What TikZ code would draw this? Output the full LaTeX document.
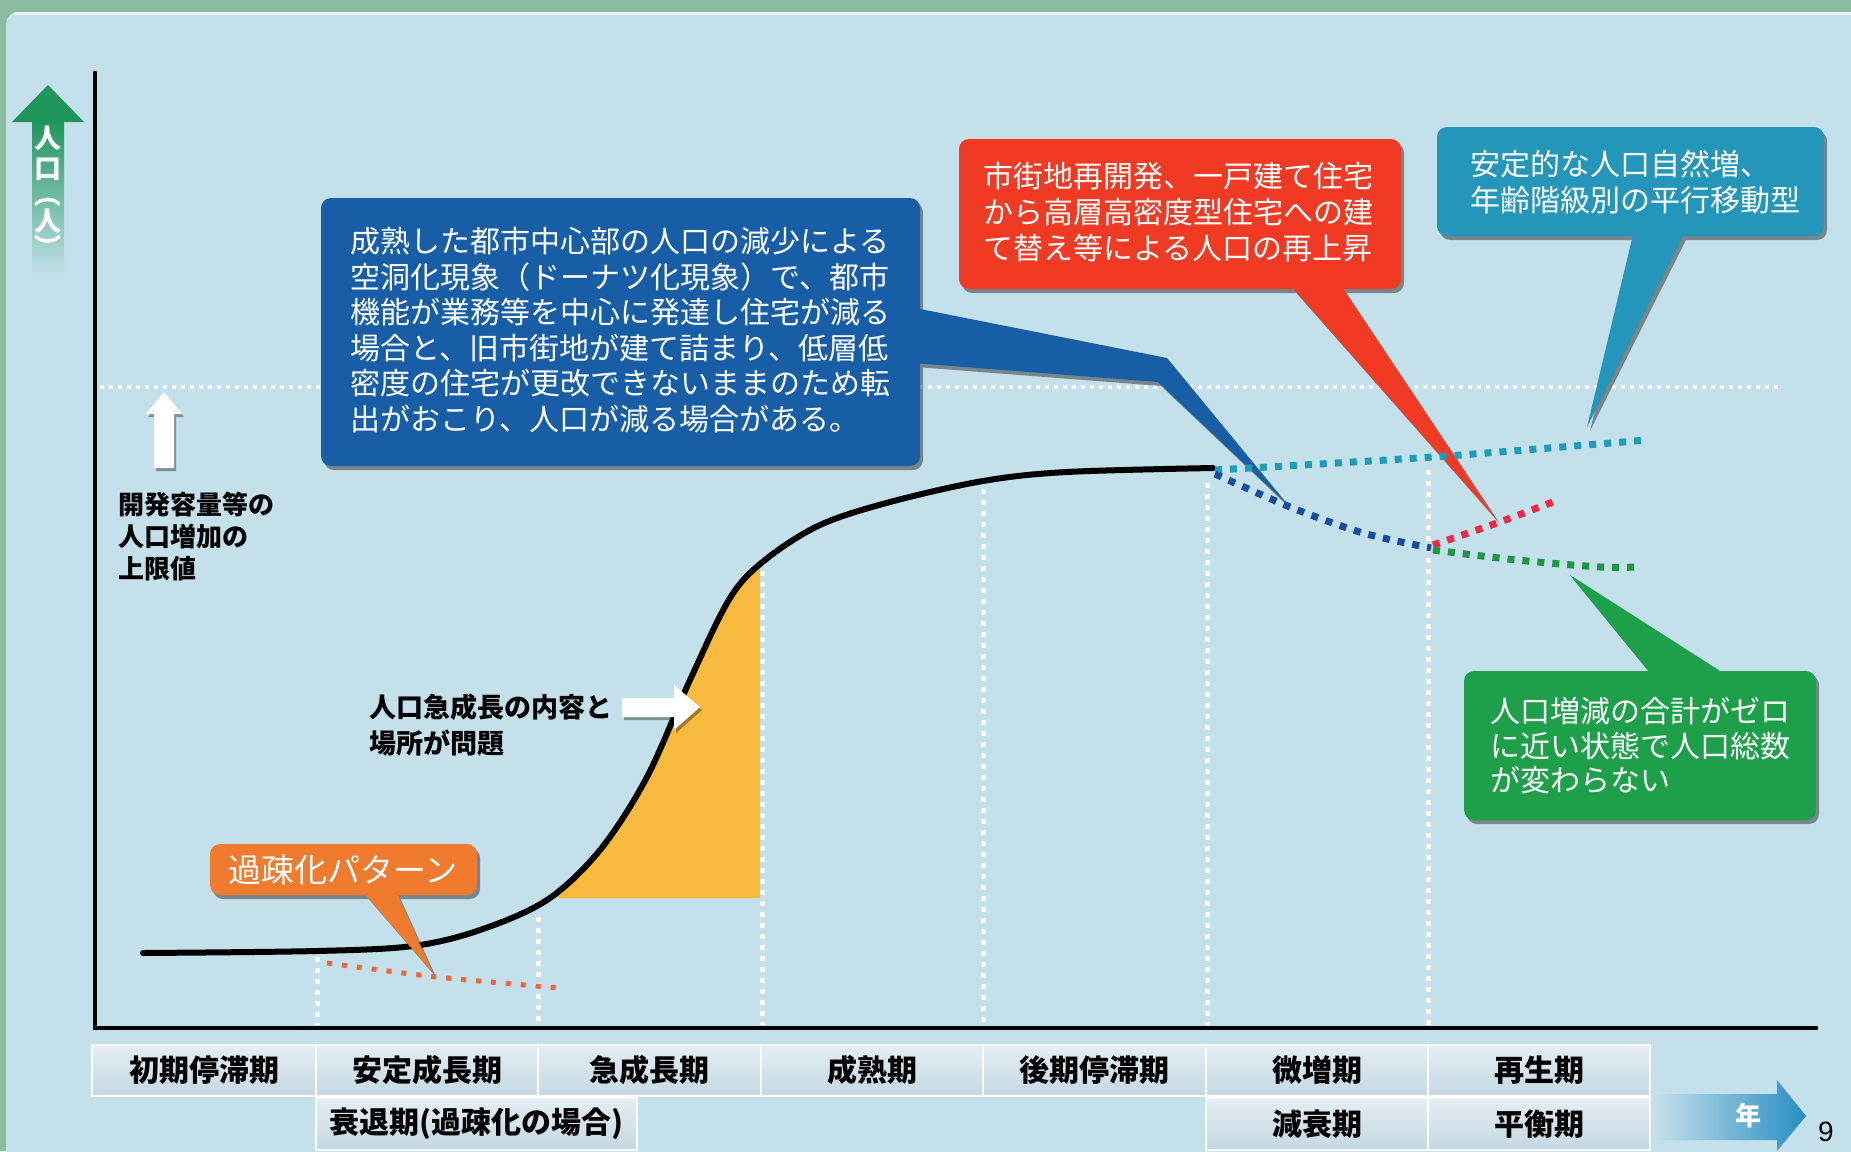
\documentclass[tikz,border=0pt]{standalone}
\usepackage{fontspec}
\setmainfont{Noto Sans CJK JP}
\newfontfamily\numfont{Liberation Sans}
\usetikzlibrary{shadows}
\definecolor{bg}{RGB}{196,224,234}
\definecolor{framegreen}{RGB}{140,188,160}
\definecolor{agreen}{RGB}{30,150,90}
\definecolor{cblue}{RGB}{24,94,166}
\definecolor{cred}{RGB}{240,58,36}
\definecolor{cteal}{RGB}{36,150,186}
\definecolor{cgreen}{RGB}{30,160,74}
\definecolor{corange}{RGB}{240,122,46}
\definecolor{fillorange}{RGB}{248,186,62}
\definecolor{dteal}{RGB}{30,158,182}
\definecolor{dblue}{RGB}{24,76,160}
\definecolor{dred}{RGB}{240,40,70}
\definecolor{dgreen}{RGB}{30,150,70}
\definecolor{dorange}{RGB}{244,100,60}
\definecolor{cellTop}{RGB}{228,238,243}
\definecolor{cellBot}{RGB}{196,216,226}
\definecolor{yarrow}{RGB}{40,140,196}
\begin{document}
\begin{tikzpicture}[x=0.5pt,y=-0.5pt,
  vdots/.style={white, line width=2.5pt, dash pattern=on 2.5pt off 3pt},
  limitdots/.style={white, opacity=0.85, line width=2pt, dash pattern=on 2pt off 2.5pt},
  cdots/.style={line width=3.5pt, dash pattern=on 3.5pt off 4pt},
  bubble/.style={drop shadow={shadow xshift=1.5pt, shadow yshift=-2pt, opacity=0.4, fill=black}},
  ctext/.style={text=white, inner sep=0pt, anchor=north west, align=left},
  blabel/.style={text=black, inner sep=0pt, anchor=north west, align=left},
  cell/.style={draw=white, line width=1pt, top color=cellTop, bottom color=cellBot, inner sep=0pt,
    font=\bfseries\fontsize{15pt}{17pt}\selectfont}]
\useasboundingbox (0,0) rectangle (1851,1151);
% background
\fill[framegreen] (0,0) rectangle (1851,1151);
\fill[bg, rounded corners=6pt] (6,12) -- (1900,12) -- (1900,1200) -- (6,1200) -- cycle;
\draw[white, opacity=0.6, line width=1.5pt] (14,13.5) -- (1851,13.5);

% y-axis label arrow
\shade[top color=agreen, bottom color=bg] (32,120) rectangle (64,275);
\fill[agreen] (48,85) -- (84,122) -- (12,122) -- cycle;
\node[text=white, inner sep=0pt, align=center, anchor=north,
  font=\bfseries\fontsize{13.5pt}{15pt}\selectfont] (ylab1) at (48,126) {人\\口};
\node[text=white, inner sep=0pt, align=center,
  font=\bfseries\fontsize{13.5pt}{11pt}\selectfont] (ylab2) at (48,228) {︵\\人\\︶};

% upper limit line
\draw[limitdots] (100,387) -- (1783,387);

% vertical dotted lines
\draw[vdots] (317,957) -- (317,1025);
\draw[vdots] (538,917) -- (538,1025);
\draw[vdots] (762,560) -- (762,1025);
\draw[vdots] (983,489) -- (983,1025);
\draw[vdots] (1207,483) -- (1207,1025);
\draw[vdots] (1428,470) -- (1428,1025);

% orange fill under the curve
\begin{scope}
\clip (540,400) rectangle (760,898);
\fill[fillorange] plot[smooth, tension=0.55] coordinates {(143,953) (317,951) (413,946) (480,930) (547,900) (600,850) (647,777) (690,680) (730,598) (765,560) (820,525) (890,502) (983,481) (1067,472) (1213,468)} -- (1213,898) -- (143,898) -- cycle;
\end{scope}
\draw[vdots] (762,560) -- (762,898);

% axes
\draw[line width=1.8pt] (95,71) -- (95,1028) -- (1818,1028);

% S curve
\draw[black, line width=3pt, line cap=round] plot[smooth, tension=0.55] coordinates {(143,953) (317,951) (413,946) (480,930) (547,900) (600,850) (647,777) (690,680) (730,598) (765,560) (820,525) (890,502) (983,481) (1067,472) (1213,468)};

% callouts
\path[bubble, fill=cblue] [rounded corners=5pt] (321,198) -- (920,198) -- (920,466) -- (321,466) -- cycle
  [sharp corners] (900,305) -- (1167,358) -- (1288,505) -- (1158,382) -- (900,362) -- cycle;
\path[bubble, fill=cred] [rounded corners=5pt] (959,139) -- (1401,139) -- (1401,289) -- (959,289) -- cycle
  [sharp corners] (1281,275) -- (1334,275) -- (1497,520) -- cycle;
\path[bubble, fill=cteal] [rounded corners=5pt] (1437,127) -- (1824,127) -- (1824,236) -- (1437,236) -- cycle
  [sharp corners] (1636,222) -- (1690,222) -- (1587,427) -- cycle;
\path[bubble, fill=cgreen] [rounded corners=5pt] (1464,671) -- (1816,671) -- (1816,820) -- (1464,820) -- cycle
  [sharp corners] (1742,685) -- (1660,685) -- (1570,575) -- cycle;
\path[bubble, fill=corange] [rounded corners=5pt] (210,844) -- (477,844) -- (477,895) -- (210,895) -- cycle
  [sharp corners] (357,885) -- (393,885) -- (433,973) -- cycle;

\node[ctext, font=\fontsize{15pt}{17.75pt}\selectfont] (btext) at (350,227)
 {成熟した都市中心部の人口の減少による\\空洞化現象（ドーナツ化現象）で、都市\\機能が業務等を中心に発達し住宅が減る\\場合と、旧市街地が建て詰まり、低層低\\密度の住宅が更改できないままのため転\\出がおこり、人口が減る場合がある。};
\node[ctext, font=\fontsize{15pt}{18pt}\selectfont] (rtext) at (983,162)
 {市街地再開発、一戸建て住宅\\から高層高密度型住宅への建\\て替え等による人口の再上昇};
\node[ctext, font=\fontsize{15pt}{18pt}\selectfont] (ttext) at (1470,150)
 {安定的な人口自然増、\\年齢階級別の平行移動型};
\node[ctext, font=\fontsize{15pt}{17.3pt}\selectfont] (gtext) at (1490,697)
 {人口増減の合計がゼロ\\に近い状態で人口総数\\が変わらない};
\node[text=white, inner sep=0pt, font=\fontsize{16.5pt}{18pt}\selectfont] (otext) at (343,870) {過疎化パターン};

% dotted scenario lines
\draw[cdots, dteal] plot[smooth] coordinates {(1215,470) (1433,457) (1647,440)};
\draw[cdots, dblue] plot[smooth] coordinates {(1215,474) (1290,507) (1363,533) (1431,548)};
\draw[cdots, dred] plot[smooth] coordinates {(1433,545) (1497,523) (1558,500)};
\draw[cdots, dgreen] plot[smooth] coordinates {(1433,550) (1517,560) (1600,567) (1635,567)};
\draw[dorange, line width=2.5pt, dash pattern=on 2.5pt off 5pt] plot[smooth] coordinates {(327,963) (437,977) (560,988)};

% white arrows
\fill[white, drop shadow={shadow xshift=1pt, shadow yshift=-1.5pt, opacity=0.35, fill=black}]
  (164,392) -- (182,414) -- (174,414) -- (174,468) -- (154,468) -- (154,414) -- (146,414) -- cycle;
\fill[white, drop shadow={shadow xshift=1pt, shadow yshift=-1.5pt, opacity=0.35, fill=black}]
  (622,698) -- (674,698) -- (674,685) -- (700,707) -- (674,730) -- (674,717) -- (622,717) -- cycle;

% black labels
\node[blabel, font=\bfseries\fontsize{13pt}{16pt}\selectfont] (limitlab) at (118,492)
 {開発容量等の\\人口増加の\\上限値};
\node[blabel, font=\bfseries\fontsize{13.5pt}{18pt}\selectfont] (growlab) at (369,694)
 {人口急成長の内容と\\場所が問題};

% period table
\node[cell, minimum width=112pt, minimum height=25.5pt] (p1) at (204,1070.5) {初期停滞期};
\node[cell, minimum width=111pt, minimum height=25.5pt] (p2) at (427,1070.5) {安定成長期};
\node[cell, minimum width=111.5pt, minimum height=25.5pt] (p3) at (649.5,1070.5) {急成長期};
\node[cell, minimum width=111pt, minimum height=25.5pt] (p4) at (872,1070.5) {成熟期};
\node[cell, minimum width=111.5pt, minimum height=25.5pt] (p5) at (1094.5,1070.5) {後期停滞期};
\node[cell, minimum width=111pt, minimum height=25.5pt] (p6) at (1317,1070.5) {微増期};
\node[cell, minimum width=111pt, minimum height=25.5pt] (p7) at (1539,1070.5) {再生期};
\node[cell, minimum width=160.5pt, minimum height=26pt] (q1) at (476.5,1124) {衰退期(過疎化の場合)};
\node[cell, minimum width=111pt, minimum height=26pt] (q2) at (1317,1124) {減衰期};
\node[cell, minimum width=111pt, minimum height=26pt] (q3) at (1539,1124) {平衡期};

% year arrow
\shade[left color=bg, right color=yarrow] (1655,1094) -- (1777,1094) -- (1777,1080) -- (1806,1116) -- (1777,1151) -- (1777,1140) -- (1655,1140) -- cycle;
\node[text=white, inner sep=0pt, font=\bfseries\fontsize{13pt}{15pt}\selectfont] (yearlab) at (1748,1116) {年};
\node[inner sep=0pt, font=\numfont\fontsize{14pt}{16pt}\selectfont] (pagenum) at (1826,1132) {9};
\end{tikzpicture}
\end{document}
